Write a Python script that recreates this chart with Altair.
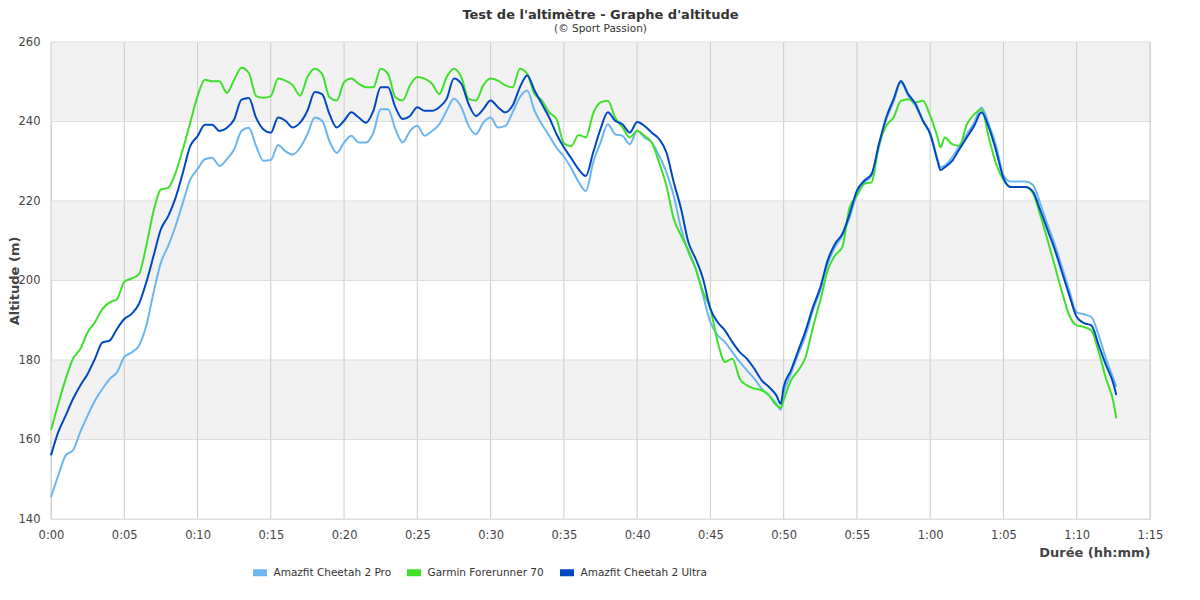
import altair as alt
import pandas as pd

# minutes since start
times = [
    0, 0.5, 1, 1.5, 2, 2.5, 3, 3.5, 4, 4.5, 5, 5.5, 6, 6.5, 7, 7.5, 8, 8.5, 9, 9.5,
    10, 10.5, 11, 11.5, 12, 12.5, 13, 13.5, 14, 14.5,
    15, 15.5, 16, 16.5, 17, 17.5, 18, 18.5, 19, 19.5, 20, 20.5, 21, 21.5, 22, 22.5,
    23, 23.5, 24, 24.5, 25, 25.5, 26, 26.5, 27, 27.5, 28, 28.5, 29, 29.5, 30, 30.5,
    31, 31.5, 32, 32.5, 33, 33.5, 34, 34.5,
    35, 35.5, 36, 36.5, 37, 37.5, 38, 38.5, 39, 39.5, 40, 40.5, 41, 41.5, 42, 42.5,
    43, 43.5, 44, 44.5, 45, 45.5, 46, 46.5, 47, 47.5, 48, 48.5, 49, 49.5,
    49.8,
    50, 50.5, 51, 51.5, 52, 52.5, 53, 53.5, 54, 54.5, 55, 55.5, 56, 56.5, 57, 57.5,
    58, 58.5, 59, 59.5, 60, 60.5,
    60.7,
    61, 61.5, 62, 62.5, 63, 63.5, 64, 64.5, 65, 65.5, 66, 66.5, 67, 67.5, 68, 68.5,
    69, 69.5, 70, 70.5, 71, 71.5, 72, 72.5,
    72.7,
]

pro = [
    145.5, 151, 156, 157.3, 161.9, 166, 169.8, 172.7, 175.2, 176.9, 180.7, 181.9, 183.6, 188.6, 197, 204.5,
    208.7, 213.7, 219.6, 225.4, 228, 230.5, 230.9, 228.8, 230.5, 233, 237.6, 238.4, 233.8, 230.1,
    230.3, 234.1, 232.5, 231.7, 233.4, 236.8, 241, 240.2, 235.1, 232.1, 234.7, 236.4, 234.7, 234.7, 237.2, 243.1,
    243.1, 238.1, 234.7, 237.6, 238.9, 236.4, 237.6, 239.3, 242.7, 245.7, 243.6, 238.9, 236.8, 239.7, 241, 238.5,
    238.9, 242.3, 246.1, 247.8, 242.7, 239.3, 236.4, 233.4,
    231.2, 228.3, 224.8, 222.5, 229.7, 234.7, 239.3, 236.8, 236.4, 234.3, 237.7, 236, 234.7, 231.4, 227.2, 221.3,
    213, 207.1, 202.9, 196.2, 189.5, 186.2, 184.5, 182, 179.5, 177.4, 175.3, 172.8, 171.1, 169,
    167.5,
    171.5, 176.6, 181.6, 186.2, 192.5, 197.5, 204.2, 208.4, 211.3, 215.9, 221.8, 224.7, 226.4, 233.5, 240.5, 245,
    249.8, 246.4, 243.9, 240.2, 237.2, 230.5,
    228.5,
    228.9, 231, 233.9, 236.8, 239.7, 243.5, 239.3, 233.9, 226.5, 224.9, 224.9, 224.9, 224.1, 219.5, 214.1, 209.1,
    203.3, 197.4, 192, 191.5, 190.8, 186.2, 180.3, 175.3,
    173.3,
]

garmin = [
    162.3, 169, 175.2, 180.3, 182.8, 187, 189.5, 192.8, 194.5, 195.3, 199.7, 200.5, 201.6, 208.7, 217.5, 222.9,
    223.3, 227.1, 233, 239.7, 246.4, 250.5, 250.1, 250.1, 247.2, 250.5, 253.5, 252.2, 246.4, 246,
    246.4, 250.8, 250.3, 249.1, 246.5, 251.2, 253.3, 252, 246.1, 245.3, 249.9, 250.8, 249.5, 248.6, 248.6, 253.3,
    252, 246.1, 245.3, 249.1, 251.2, 250.8, 249.5, 246.9, 251.2, 253.3, 251.2, 245.7, 245.3, 249.1, 250.8, 250.3,
    249.1, 248.6, 253.3, 252, 246.9, 245.3, 242.3, 240.6,
    234.5, 233.8, 236.6, 236, 242, 244.8, 245.2, 241, 238.5, 236, 237.7, 236.4, 234.7, 229.7, 223.8, 215.5,
    211.3, 207.5, 202.9, 197.1, 192.9, 184.5, 179.5, 180.3, 175.3, 173.6, 172.8, 172.4, 171.1, 168.6,
    168,
    169.9, 174.9, 177.4, 180.8, 188.3, 195, 202.5, 206.3, 208.4, 218.4, 221.3, 224.3, 224.7, 234.3, 238.9, 241,
    245.2, 245.6, 244.8, 245.2, 241.4, 236,
    233.5,
    236, 234.3, 233.9, 239.3, 241.8, 243.1, 236, 229.3, 225.3, 223.5, 223.5, 223.5, 222, 216.6, 210.3, 203.7,
    197, 191.2, 188.7, 188.3, 187.4, 182, 175.3, 169.5,
    165.3,
]

ultra = [
    156, 161.9, 166, 170.2, 173.6, 176.5, 180.3, 184.4, 184.9, 187.8, 190.3, 191.6, 194.1, 199.5, 206.2, 212.9,
    216.2, 220.8, 227.1, 233.8, 236.3, 239.2, 239.2, 237.6, 238.4, 240.5, 245.5, 245.9, 240.9, 238,
    237.2, 241, 240.2, 238.5, 239.7, 242.7, 247.4, 246.9, 241.9, 238.5, 240.2, 242.3, 241, 239.7, 242.7, 248.6,
    248.6, 243.6, 240.6, 241.4, 243.6, 242.7, 242.7, 243.6, 245.7, 250.8, 249.5, 244.4, 241.4, 243.1, 245.3, 243.6,
    242.3, 244, 248.6, 251.6, 247.8, 244.4, 241, 236.8,
    233.5, 230.8, 228, 226.3, 232.2, 238.1, 242.3, 240.2, 239.3, 237.2, 239.9, 238.9, 237.2, 235.6, 232.2, 224.7,
    218, 209.6, 205.4, 200.4, 192.9, 189.5, 187.4, 184.5, 182, 180.3, 177.8, 174.9, 173.2, 171.1,
    169,
    173.2, 177.4, 182.4, 187.4, 193.3, 198.3, 205, 209.2, 211.7, 216.7, 222.6, 225.1, 226.8, 234.3, 241, 245.6,
    250.2, 246.9, 244.4, 240.2, 236.8, 230.1,
    227.8,
    228.5, 230.1, 233.1, 236, 238.9, 242.3, 238.5, 232.6, 225.8, 223.5, 223.5, 223.5, 222.4, 217.8, 212.8, 207.8,
    202, 196.2, 190.8, 189.3, 188.7, 183.7, 178.7, 174.1,
    171.2,
]

series_names = ["Amazfit Cheetah 2 Pro", "Garmin Forerunner 70", "Amazfit Cheetah 2 Ultra"]
series_colors = ["#6cb6f0", "#3fe02c", "#0048c2"]

x_ticks = [0, 5, 10, 15, 20, 25, 30, 35, 40, 45, 50, 55, 60, 65, 70, 75]
y_ticks = [140, 160, 180, 200, 220, 240, 260]
band_low = [240, 200, 160]
band_high = [260, 220, 180]
x_range = [0, 75]
y_range = [140, 260]

rows = []
for idx, (name, vals) in enumerate(zip(series_names, [pro, garmin, ultra])):
    for t, v in zip(times, vals):
        rows.append({"t": t, "alt": v, "series": name, "order": idx})
df = pd.DataFrame(rows)

bands_df = pd.DataFrame({"lo": band_low, "hi": band_high,
                         "x0": [x_range[0]] * 3, "x1": [x_range[1]] * 3})
vgrid_df = pd.DataFrame({"v": x_ticks})
hgrid_df = pd.DataFrame({"h": y_ticks})

FONT = "DejaVu Sans"
W, H = 1099, 477

xscale = alt.Scale(domain=x_range, nice=False, zero=False)
yscale = alt.Scale(domain=y_range, nice=False, zero=False)

ax_x = alt.Axis(
    values=x_ticks, grid=False, domain=False, ticks=False, tickSize=0,
    labelExpr="floor(datum.value/60) + ':' + (datum.value % 60 < 10 ? '0' : '') + (datum.value % 60)",
    labelFont=FONT, labelFontSize=11.5, labelColor="#444444", labelPadding=10,
    title="Durée (hh:mm)", titleFont=FONT, titleFontSize=13, titleFontWeight="bold",
    titleColor="#444444", titleX=W, titleY=33, titleAlign="right", titleBaseline="middle",
    labelFlush=False, labelOverlap=False,
)
ax_y = alt.Axis(
    values=y_ticks, grid=False, domain=False, ticks=False, tickSize=0,
    labelFont=FONT, labelFontSize=11.5, labelColor="#444444", labelPadding=11,
    title="Altitude (m)", titleFont=FONT, titleFontSize=13, titleFontWeight="bold",
    titleColor="#444444", titleX=-33, titleY=H / 2, titleAngle=-90,
    titleAlign="center", titleBaseline="alphabetic",
)

bands = alt.Chart(bands_df).mark_rect(color="#f2f2f2").encode(
    x=alt.X("x0:Q", scale=xscale, axis=ax_x),
    x2="x1:Q",
    y=alt.Y("lo:Q", scale=yscale, axis=ax_y),
    y2="hi:Q",
)

vgrid = alt.Chart(vgrid_df).mark_rule(color="#cccccc", strokeWidth=1).encode(
    x=alt.X("v:Q", scale=xscale, axis=ax_x),
)
hgrid = alt.Chart(hgrid_df).mark_rule(color="#dddddd", strokeWidth=1).encode(
    y=alt.Y("h:Q", scale=yscale, axis=ax_y),
)

lines = alt.Chart(df).mark_line(strokeWidth=2, interpolate="monotone").encode(
    x=alt.X("t:Q", scale=xscale, axis=ax_x),
    y=alt.Y("alt:Q", scale=yscale, axis=ax_y),
    color=alt.Color(
        "series:N",
        scale=alt.Scale(domain=series_names, range=series_colors),
        sort=series_names,
        legend=alt.Legend(
            title=None, orient="none", direction="horizontal",
            legendX=198.5, legendY=520,
            symbolType="M-1,0L1,0", symbolSize=196, symbolStrokeWidth=7,
            labelFont=FONT, labelFontSize=10.5, labelColor="#333333",
            labelOffset=3, columnPadding=1, padding=0, gridAlign="each",
        ),
    ),
    order=alt.Order("order:Q"),
)

chart = alt.layer(bands, vgrid, hgrid, lines).properties(
    width=W, height=H,
    title=alt.TitleParams(
        text="Test de l'altimètre - Graphe d'altitude",
        subtitle="(© Sport Passion)",
        font=FONT, fontSize=13, fontWeight="bold", color="#333333",
        subtitleFont=FONT, subtitleFontSize=10.5, subtitleColor="#333333",
        anchor="middle", frame="group", offset=2, subtitlePadding=2,
    ),
    autosize=alt.AutoSizeParams(type="none"),
    padding={"left": 43, "top": 34, "right": 42, "bottom": 73},
).configure_view(stroke=None).configure(background="white")

chart.save("out.html", embed_options={"renderer": "svg", "actions": False})
